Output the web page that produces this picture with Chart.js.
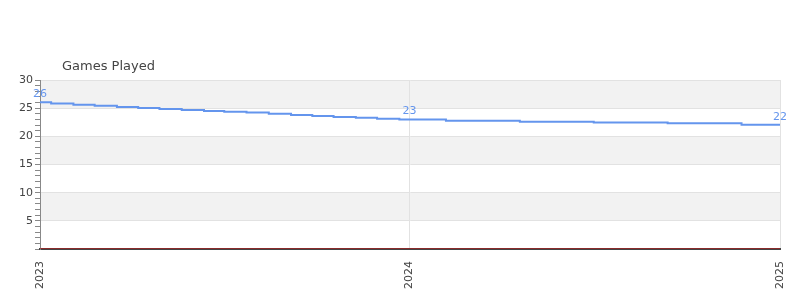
<!DOCTYPE html>
<html>
<head>
<meta charset="utf-8">
<script src="https://cdn.jsdelivr.net/npm/chart.js@4/dist/chart.umd.min.js"></script>
<style>
    html, body { margin: 0; padding: 0; background: #fff; }
    #wrap { width: 800px; height: 300px; position: relative; }
</style>
</head>
<body>
<div id="wrap"><canvas id="mainChart"></canvas></div>
<script>
// Chart data
const chartTitle = 'Games Played';
const stepDates = [
    '2023-01-01', '2023-01-12', '2023-02-03', '2023-02-24', '2023-03-18', '2023-04-08',
    '2023-04-29', '2023-05-21', '2023-06-12', '2023-07-02', '2023-07-24', '2023-08-15',
    '2023-09-06', '2023-09-27', '2023-10-18', '2023-11-09', '2023-11-30', '2023-12-22',
    '2024-01-01', '2024-02-06', '2024-04-19', '2024-07-01', '2024-09-12', '2024-11-24',
    '2025-01-01'
];
const gamesPlayed = [
    26.04, 25.83, 25.62, 25.42, 25.21, 25.03,
    24.85, 24.68, 24.50, 24.37, 24.25, 24.02,
    23.79, 23.61, 23.43, 23.31, 23.13, 22.99,
    22.99, 22.78, 22.58, 22.46, 22.31, 22.07,
    22.07
];
// points that carry a value label
const labelledDates = ['2023-01-01', '2024-01-01', '2025-01-01'];
const baselineDates = ['2023-01-01', '2025-01-01'];
const baselineValues = [0, 0];
const yearTicks = ['2023', '2024', '2025'];
const yTickLabels = [5, 10, 15, 20, 25, 30];

const DAY = 86400000;
const origin = Date.UTC(2023, 0, 1);
const toDay = s => {
    const [y, m, d] = s.split('-').map(Number);
    return (Date.UTC(y, m - 1, d) - origin) / DAY;
};
const yearDay = y => toDay(y + '-01-01');

const FONT = "'DejaVu Sans', sans-serif";

// alternating grey bands behind the plot
const bandsPlugin = {
    id: 'bands',
    beforeDraw(chart) {
        const { ctx, chartArea, scales } = chart;
        const y = scales.y;
        ctx.save();
        ctx.fillStyle = '#f2f2f2';
        for (let v = 30; v > 0; v -= 10) {
            const top = y.getPixelForValue(v);
            const bottom = y.getPixelForValue(v - 5);
            ctx.fillRect(chartArea.left, top, chartArea.right - chartArea.left, bottom - top);
        }
        ctx.restore();
    }
};

// title drawn left-ish above the plot
const titlePlugin = {
    id: 'leftTitle',
    afterDraw(chart) {
        const { ctx, chartArea } = chart;
        ctx.save();
        ctx.font = '13px ' + FONT;
        ctx.fillStyle = '#444';
        ctx.textBaseline = 'middle';
        ctx.fillText(chartTitle, chartArea.left + 22, 67);
        ctx.restore();
    }
};

// value labels above selected points
const valueLabels = {
    id: 'valueLabels',
    afterDatasetsDraw(chart) {
        const { ctx } = chart;
        const meta = chart.getDatasetMeta(0);
        const wanted = labelledDates.map(toDay);
        ctx.save();
        ctx.font = '11px ' + FONT;
        ctx.fillStyle = '#6495ED';
        ctx.textAlign = 'center';
        ctx.textBaseline = 'alphabetic';
        meta.data.forEach((pt, i) => {
            const raw = chart.data.datasets[0].data[i];
            if (wanted.includes(raw.x)) {
                ctx.fillText(Math.round(raw.y), pt.x, pt.y - 5);
            }
        });
        ctx.restore();
    }
};

const canvas = document.getElementById('mainChart');
new Chart(canvas.getContext('2d'), {
    type: 'line',
    data: {
        datasets: [{
            label: chartTitle,
            data: stepDates.map((d, i) => ({ x: toDay(d), y: gamesPlayed[i] })),
            borderColor: '#6495ED',
            borderWidth: 2,
            pointRadius: 0,
            stepped: 'before',
            fill: false
        }, {
            label: 'baseline',
            data: baselineDates.map((d, i) => ({ x: toDay(d), y: baselineValues[i] })),
            borderColor: '#d01010',
            borderWidth: 1,
            pointRadius: 0,
            fill: false
        }]
    },
    options: {
        responsive: true,
        maintainAspectRatio: false,
        animation: false,
        layout: { padding: { top: 80, right: 20, left: 0, bottom: 0 } },
        plugins: {
            legend: { display: false },
            title: { display: false },
            tooltip: { enabled: false }
        },
        scales: {
            x: {
                type: 'linear',
                min: yearDay(yearTicks[0]),
                max: yearDay(yearTicks[yearTicks.length - 1]),
                afterBuildTicks: scale => {
                    scale.ticks = yearTicks.map(y => ({ value: yearDay(y) }));
                },
                afterFit: scale => {
                    scale.height = 51;
                    scale.paddingLeft = 0;
                    scale.paddingRight = 0;
                },
                border: { display: true, color: '#444', width: 2 },
                grid: {
                    drawTicks: false,
                    color: '#e2e2e2'
                },
                ticks: {
                    autoSkip: false,
                    minRotation: 90,
                    maxRotation: 90,
                    padding: 12,
                    color: '#444',
                    font: { family: FONT, size: 11 },
                    callback: value => {
                        const y = yearTicks.find(t => yearDay(t) === value);
                        return y || '';
                    }
                }
            },
            y: {
                min: 0,
                max: 30,
                afterFit: scale => { scale.width = 40; },
                border: { display: true, color: '#888', width: 1 },
                grid: {
                    tickLength: 5,
                    tickColor: '#888',
                    color: ctx => (ctx.tick && ctx.tick.value % 5 === 0) ? '#e2e2e2' : 'rgba(0,0,0,0)'
                },
                ticks: {
                    stepSize: 1,
                    autoSkip: false,
                    padding: 2,
                    color: '#444',
                    font: { family: FONT, size: 11 },
                    callback: value => yTickLabels.includes(value) ? String(value) : ''
                }
            }
        }
    },
    plugins: [bandsPlugin, titlePlugin, valueLabels]
});
</script>
</body>
</html>
